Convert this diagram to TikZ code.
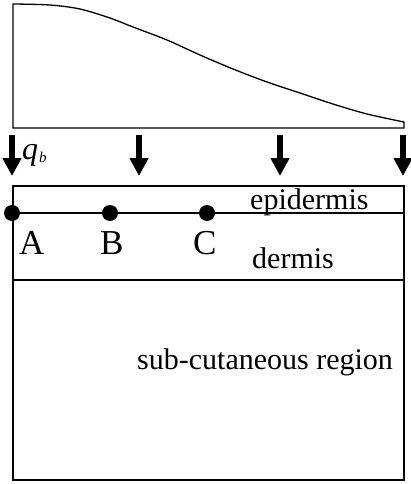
\documentclass[tikz,border=0pt]{standalone}
\usepackage{fontspec}
\setmainfont{Liberation Serif}
\usetikzlibrary{arrows.meta}
\begin{document}
\begin{tikzpicture}[x=1pt,y=-1pt,
  lbl/.style={inner sep=0pt,anchor=base west,font=\fontsize{30}{30}\selectfont},
  pt/.style={inner sep=0pt,anchor=base west,font=\fontsize{35}{35}\selectfont},
  flux/.style={line width=5.5pt,-{Triangle[width=18pt,length=18pt]}},
  dotm/.style={circle,fill=black,inner sep=0pt,minimum size=16pt}]
\useasboundingbox (0,0) rectangle (410,484);
% heat flux profile
\draw[line width=1.3pt] (13,128) -- plot[smooth] coordinates {(13,4) (50,5) (80,9) (110,18) (133,27) (167,40) (200,55) (233,69) (267,82) (300,93) (333,104) (367,114) (404,122)} -- (404,128) -- cycle;
% arrows
\foreach \n/\x in {a1/12,a2/139,a3/280,a4/403}{
  \coordinate (\n s) at (\x,135);
  \coordinate (\n e) at (\x,176);
  \draw[flux] (\n s) -- (\n e);
}
\node[inner sep=0pt,anchor=base west] (q) at (22,159) {\fontsize{32}{32}\selectfont\itshape q};
\node[inner sep=0pt,anchor=base west] (b) at (39,162) {\fontsize{15}{15}\selectfont\itshape b};
% skin layers
\draw[line width=2pt] (13,186) rectangle (404,480);
\coordinate (el) at (13,213); \coordinate (er) at (404,213);
\coordinate (dl) at (13,280); \coordinate (dr) at (404,280);
\draw[line width=2pt] (el) -- (er);
\draw[line width=2pt] (dl) -- (dr);
\node[dotm] (pA) at (12,213) {};
\node[dotm] (pB) at (110,213) {};
\node[dotm] (pC) at (207,213) {};
\node[pt] (lA) at (19,254) {A};
\node[pt] (lB) at (100,254) {B};
\node[pt] (lC) at (193,254) {C};
\node[lbl] (epi) at (250,209) {epidermis};
\node[lbl] (der) at (252,268) {dermis};
\node[lbl] (sub) at (137,369) {sub-cutaneous region};
\end{tikzpicture}
\end{document}
